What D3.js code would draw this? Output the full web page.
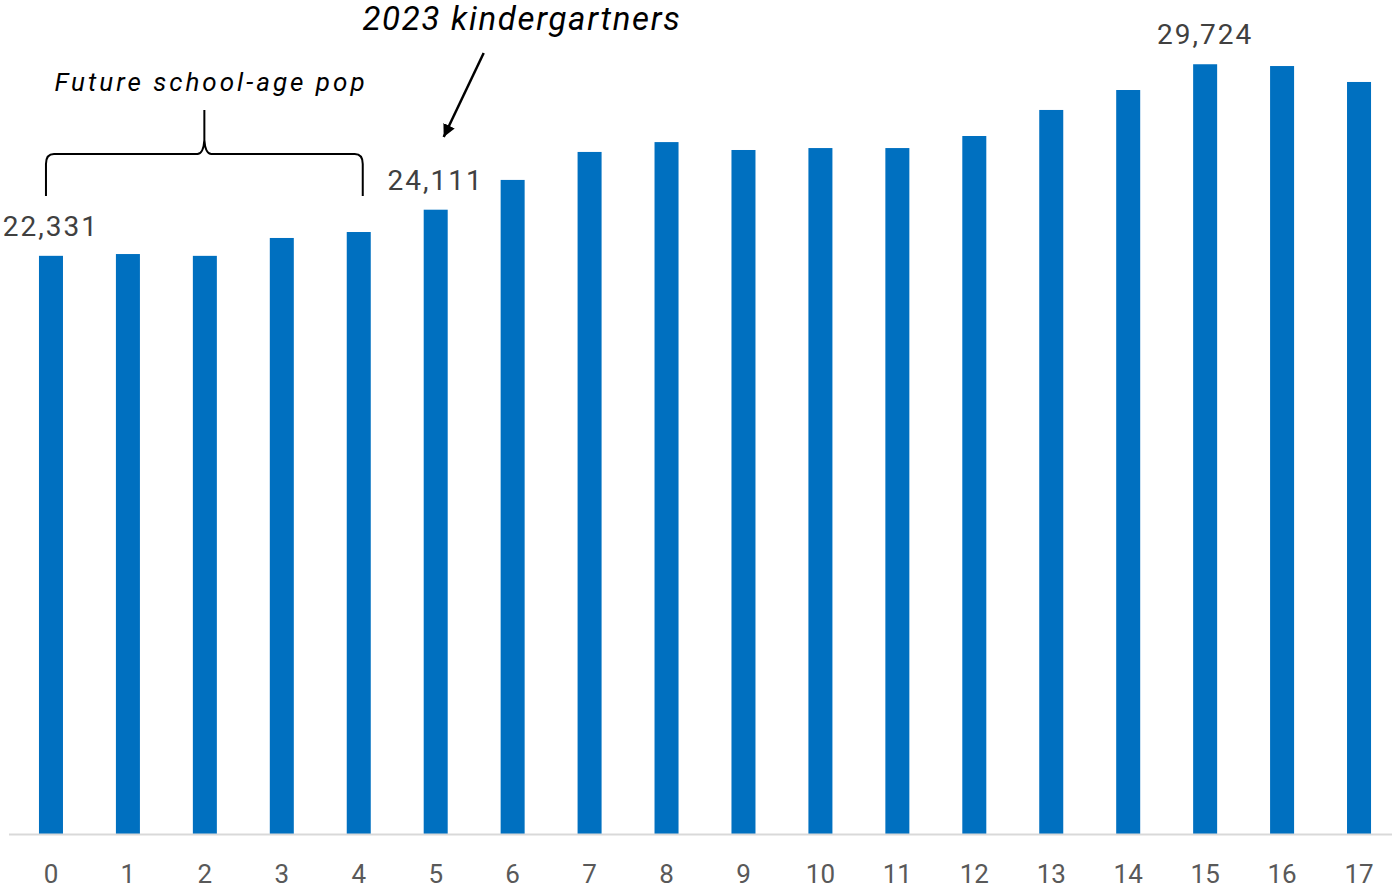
<!DOCTYPE html>
<html>
<head>
<meta charset="utf-8">
<script src="https://cdn.jsdelivr.net/npm/d3@7"></script>
<style>
  html, body { margin: 0; padding: 0; background: #fff; }
  svg { display: block; }
</style>
</head>
<body>
<svg id="chart" width="1392" height="891"></svg>
<script>
const ages = ["0","1","2","3","4","5","6","7","8","9","10","11","12","13","14","15","16","17"];
const population = [22331, 22400, 22330, 23020, 23250, 24111, 25260, 26340, 26720, 26415, 26490, 26490, 26955, 27960, 28730, 29724, 29655, 29040];
const labelledAges = ["0", "5", "15"];
const annotationKinder = "2023 kindergartners";
const annotationFuture = "Future school-age pop";

(function () {
const svg = d3.select("#chart");
const W = 1392, H = 891;
const baseline = 834.5;

const x = d3.scaleBand().domain(ages).range([12.5, 1397.5]).paddingInner(0.688).paddingOuter(0.344);
const y = d3.scaleLinear().domain([0, 30000]).range([baseline, baseline - 30000 / 38.59]);

const font = "'Roboto', 'Liberation Sans', sans-serif";

// bars
svg.append("g").selectAll("rect").data(ages).join("rect")
  .attr("x", d => x(d))
  .attr("width", x.bandwidth())
  .attr("y", (d, i) => y(population[i]))
  .attr("height", (d, i) => y(0) - y(population[i]))
  .attr("fill", "#0070C0");

// axis
const xAxis = d3.axisBottom(x).tickSize(0).tickPadding(30);
const gx = svg.append("g").attr("transform", `translate(0,${baseline})`).call(xAxis);
gx.select(".domain").attr("stroke", "#D9D9D9").attr("stroke-width", 2).attr("d", `M9,0H${W}`);
gx.selectAll("text").attr("font-family", font).attr("font-size", 26).attr("fill", "#595959");

// data labels
svg.append("g").selectAll("text").data(labelledAges).join("text")
  .attr("x", d => x(d) + x.bandwidth() / 2)
  .attr("y", d => y(population[ages.indexOf(d)]) - 20)
  .attr("text-anchor", "middle")
  .attr("font-family", font).attr("font-size", 28).attr("letter-spacing", 2)
  .attr("fill", "#404040")
  .text(d => d3.format(",")(population[ages.indexOf(d)]));

// annotation: kindergartners
svg.append("text")
  .attr("x", 522).attr("y", 30)
  .attr("text-anchor", "middle")
  .attr("font-family", font).attr("font-style", "italic").attr("font-size", 33)
  .attr("letter-spacing", 1.7)
  .attr("fill", "#000")
  .text(annotationKinder);

const defs = svg.append("defs");
defs.append("marker").attr("id", "arr").attr("viewBox", "0 0 10 10")
  .attr("refX", 10).attr("refY", 5).attr("markerWidth", 5).attr("markerHeight", 5)
  .attr("orient", "auto")
  .append("path").attr("d", "M0,0L10,5L0,10Z").attr("fill", "#000");

const k5 = x("5") + x.bandwidth() / 2;
svg.append("line")
  .attr("x1", k5 + 48).attr("y1", 53)
  .attr("x2", k5 + 8).attr("y2", 137)
  .attr("stroke", "#000").attr("stroke-width", 2.5)
  .attr("marker-end", "url(#arr)");

// annotation: future school-age pop
svg.append("text")
  .attr("x", 211).attr("y", 91)
  .attr("text-anchor", "middle")
  .attr("font-family", font).attr("font-style", "italic").attr("font-size", 26)
  .attr("letter-spacing", 3)
  .attr("fill", "#000")
  .text(annotationFuture);

// bracket
const bL = x("0") + x.bandwidth() / 2 - 5;
const bR = x("4") + x.bandwidth() / 2 + 4;
const bM = (bL + bR) / 2;
const bTop = 154, bBot = 196, cusp = 110;
const p = d3.path();
p.moveTo(bL, bBot);
p.lineTo(bL, bTop + 10);
p.quadraticCurveTo(bL, bTop, bL + 8, bTop);
p.lineTo(bM - 7, bTop);
p.quadraticCurveTo(bM - 1, bTop, bM, bTop - 14);
p.lineTo(bM, cusp);
p.moveTo(bM, bTop - 14);
p.quadraticCurveTo(bM + 1, bTop, bM + 7, bTop);
p.lineTo(bR - 8, bTop);
p.quadraticCurveTo(bR, bTop, bR, bTop + 10);
p.lineTo(bR, bBot);
svg.append("path").attr("d", p.toString())
  .attr("fill", "none").attr("stroke", "#000").attr("stroke-width", 2);
})();
</script>
</body>
</html>
